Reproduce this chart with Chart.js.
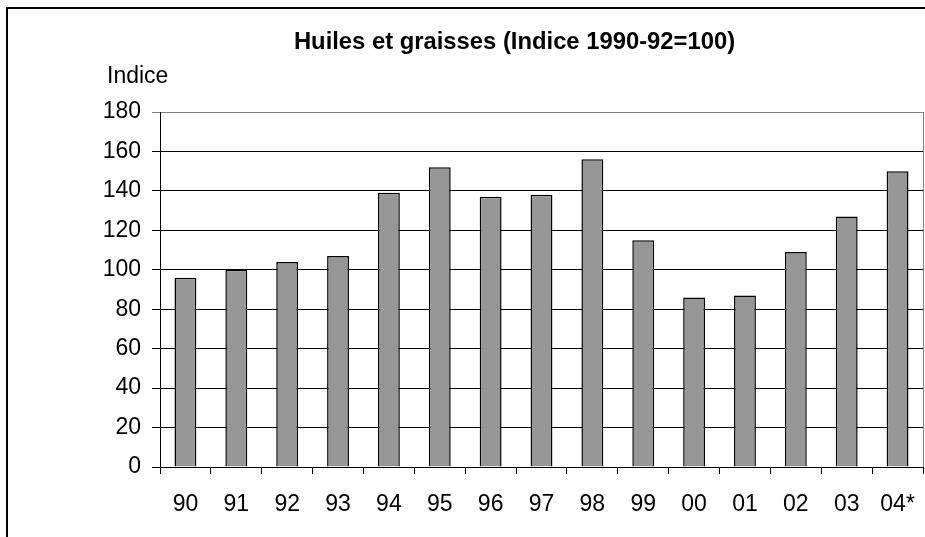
<!DOCTYPE html>
<html>
<head>
<meta charset="utf-8">
<script src="https://cdn.jsdelivr.net/npm/chart.js@4/dist/chart.umd.min.js"></script>
<style>
  html, body { margin: 0; padding: 0; background: #fff; width: 925px; height: 537px; overflow: hidden; }
  #frame { position: absolute; left: 6px; top: 7px; width: 1200px; height: 1200px; border: 2px solid #000; box-sizing: border-box; }
  #wrap { position: absolute; left: 0; top: 0; width: 925px; height: 537px; }
  .txt { position: absolute; font-family: "Liberation Sans", Arial, sans-serif; line-height: 23px; color: #000; white-space: nowrap; }
  #title { left: 0; width: 1029px; top: 29px; text-align: center; font-weight: bold; font-size: 23.8px; }
  #ylab { left: 107px; top: 64px; font-size: 23px; }
</style>
</head>
<body>
<div id="frame"></div>
<div id="wrap"><canvas id="c" width="925" height="537"></canvas></div>
<div class="txt" id="title">Huiles et graisses (Indice 1990-92=100)</div>
<div class="txt" id="ylab">Indice</div>
<script>
const categories = ["90","91","92","93","94","95","96","97","98","99","00","01","02","03","04*"];
const indexValues = [96, 100, 104, 107, 139, 152, 137, 138, 156, 115, 86, 87, 109, 127, 150];
const yMin = 0, yMax = 180, yStep = 20;

const rightBorder = {
  id: 'rightBorder',
  afterDraw(chart) {
    const a = chart.chartArea, ctx = chart.ctx;
    ctx.save();
    ctx.strokeStyle = '#808080';
    ctx.lineWidth = 1;
    ctx.beginPath();
    ctx.moveTo(Math.round(a.right) + 0.5, a.top);
    ctx.lineTo(Math.round(a.right) + 0.5, a.bottom);
    ctx.stroke();
    ctx.restore();
  }
};

new Chart(document.getElementById('c'), {
  type: 'bar',
  data: {
    labels: categories,
    datasets: [{
      data: indexValues,
      backgroundColor: '#969696',
      borderColor: '#000000',
      borderWidth: 1.5,
      barPercentage: 0.43,
      categoryPercentage: 1.0
    }]
  },
  options: {
    responsive: false,
    animation: false,
    devicePixelRatio: 1,
    layout: { padding: { left: 0, right: 2, top: 112, bottom: 0 } },
    plugins: { legend: { display: false }, title: { display: false }, tooltip: { enabled: false } },
    scales: {
      x: {
        grid: { display: true, drawOnChartArea: false, drawTicks: true, tickLength: 7, color: '#000', offset: true },
        border: { display: true, color: '#000', width: 1 },
        ticks: { color: '#000', font: { family: 'Liberation Sans', size: 23 }, padding: 17, maxRotation: 0, autoSkip: false },
        afterFit(scale) { scale.height = 70; scale.paddingLeft = 0; scale.paddingRight = 0; }
      },
      y: {
        min: yMin, max: yMax,
        grid: {
          color: (ctx) => (ctx.tick && ctx.tick.value === yMax) ? '#808080' : '#000',
          lineWidth: 1, drawTicks: true, tickLength: 8
        },
        border: { display: true, color: '#000', width: 1 },
        ticks: { stepSize: yStep, color: '#000', font: { family: 'Liberation Sans', size: 23 }, padding: 11 },
        afterFit(scale) { scale.width = 160; }
      }
    }
  },
  plugins: [rightBorder]
});
</script>
</body>
</html>
